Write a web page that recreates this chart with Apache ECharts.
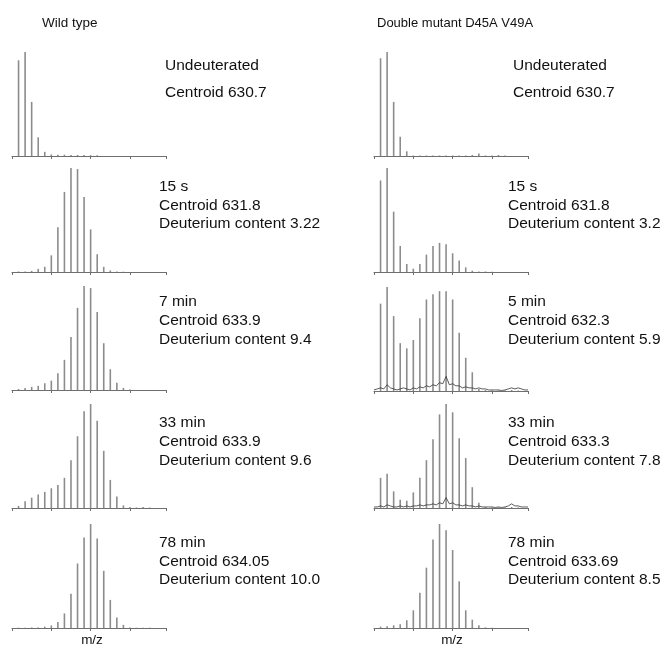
<!DOCTYPE html>
<html>
<head>
<meta charset="utf-8">
<script src="https://cdn.jsdelivr.net/npm/echarts@6/dist/echarts.min.js"></script>
<style>
html,body{margin:0;padding:0;background:#fff;}
#chart{width:665px;height:652px;}
</style>
</head>
<body>
<div id="chart"></div>
<script>
// ---- Data (relative intensity, % of base peak; index = isotope peak number) ----
const columnTitles = ['Wild type', 'Double mutant D45A V49A'];
const axisName = 'm/z';

const wtUndeut = [0, 92, 100, 52, 18, 4, 1.5, 1.2, 1.2, 1, 1, 1, 0.8, 0.8, 0, 0, 0, 0, 0, 0, 0, 0, 0, 0];
const wt15s    = [0, 0.5, 0.5, 1, 3, 5, 16, 43, 77, 100, 99, 72, 41, 17, 5, 1.5, 0.5, 0.3, 0, 0, 0, 0, 0, 0];
const wt7min   = [0, 1, 2, 3, 4, 6.5, 9, 16, 29, 51, 79, 100, 98, 75, 45, 20, 7, 2, 0.5, 0, 0, 0, 0, 0];
const wt33min  = [0, 2, 6.5, 10, 13, 15.5, 19, 22, 29, 46, 69, 93, 100, 84, 55, 27, 11, 2.5, 1, 0.5, 1, 0.5, 0, 0];
const wt78min  = [0, 0.3, 0.3, 0.5, 0.6, 1.3, 2.5, 5.7, 14, 33, 62, 87, 100, 86, 55, 27, 10, 3, 0.6, 0.3, 0.3, 0.3, 0, 0];

const dmUndeut = [0, 94, 100, 52, 18.5, 4.5, 0.5, 0.5, 0.5, 0.5, 0.5, 0.5, 0.5, 0.5, 0.5, 1, 2.5, 0.5, 0.5, 1, 0.5, 0, 0, 0];
const dm15s    = [0, 88, 100, 58, 25, 7.7, 3.2, 7.7, 16.7, 25, 28, 26.6, 18, 11, 4.5, 1.3, 0.6, 0.5, 0.3, 0, 0, 0, 0, 0];
const dm5min   = [0, 84, 100, 72, 46, 41, 49, 70, 88, 93, 96, 96, 88, 56, 32, 18, 2, 1, 0.5, 0.5, 0.5, 1, 0.5, 0];
const dm33min  = [0, 29, 33, 16, 8, 7, 15, 29, 46, 66, 90, 100, 92, 67, 48, 20, 5, 1, 0.5, 0.5, 0.5, 1, 0.5, 0];
const dm78min  = [0, 1.3, 1.6, 2.6, 3.6, 7.5, 17, 34, 58, 85, 100, 94, 75, 45, 17, 8, 2.6, 0.6, 0.3, 0, 0, 0, 0, 0];

// raw-trace noise under the 5 min and 33 min mutant spectra (positions in half-peak steps)
const noiseX    = [0,0.5,1,1.5,2,2.5,3,3.5,4,4.5,5,5.5,6,6.5,7,7.5,8,8.5,9,9.5,10,10.5,11,11.5,12,12.5,13,13.5,14,14.5,15,15.5,16,16.5,17,17.5,18,18.5,19,19.5,20,20.5,21,21.5,22,22.5,23,23.5];
const dm5Noise  = [1,2,3,2,6,3,2,1,2,3,2,1,3,2,4,3,5,4,6,5,8,7,14,6,7,5,5,3,4,3,3,2,3,2,2,1,1,1,1,0.5,1,2,3,2,3,2,1,1];
const dm33Noise = [1,1,2,1,3,2,1,1,2,1,2,1,2,2,3,2,3,3,4,3,5,4,10,4,5,3,3,2,3,2,2,1,2,1,1,1,1,0.5,1,0.5,1,2,4,2,2,1,1,1];

const wtLabels = [
  ['Undeuterated', 'Centroid 630.7'],
  ['15 s', 'Centroid 631.8', 'Deuterium content 3.22'],
  ['7 min', 'Centroid 633.9', 'Deuterium content 9.4'],
  ['33 min', 'Centroid 633.9', 'Deuterium content 9.6'],
  ['78 min', 'Centroid 634.05', 'Deuterium content 10.0']
];
const dmLabels = [
  ['Undeuterated', 'Centroid 630.7'],
  ['15 s', 'Centroid 631.8', 'Deuterium content 3.2'],
  ['5 min', 'Centroid 632.3', 'Deuterium content 5.9'],
  ['33 min', 'Centroid 633.3', 'Deuterium content 7.8'],
  ['78 min', 'Centroid 633.69', 'Deuterium content 8.5']
];

// ---- Layout ----
const columns = [
  { spectra: [wtUndeut, wt15s, wt7min, wt33min, wt78min], labels: wtLabels,
    noise: [null, null, null, null, null],
    left: 12, baselines: [156, 272, 390, 508, 628],
    textX: [165, 159, 159, 159, 159] },
  { spectra: [dmUndeut, dm15s, dm5min, dm33min, dm78min], labels: dmLabels,
    noise: [null, null, dm5Noise, dm33Noise, null],
    left: 374, baselines: [156, 272, 391, 508, 628],
    textX: [513, 508, 508, 508, 508] }
];
const textY = [[66, 93], [187, 205.5, 224], [302, 321, 340], [423, 442, 460.5], [543, 561.5, 580]];

const grid = [], xAxis = [], yAxis = [], series = [], graphic = [];
const PANEL_H = 104, PANEL_W = 154;
const font = '"Liberation Sans", Arial, sans-serif';

columns.forEach((col, c) => {
  col.spectra.forEach((vals, r) => {
    const gi = grid.length;
    grid.push({ left: col.left, top: col.baselines[r] - PANEL_H, width: PANEL_W, height: PANEL_H });
    xAxis.push({
      gridIndex: gi, type: 'value', min: 0, max: 23.5, interval: 6,
      axisLine: { show: true, lineStyle: { color: '#6e6e6e', width: 1 } },
      axisTick: { show: true, length: 3, lineStyle: { color: '#6e6e6e', width: 1 } },
      axisLabel: { show: false }, splitLine: { show: false }
    });
    yAxis.push({ gridIndex: gi, type: 'value', min: 0, max: 100, show: false, splitLine: { show: false } });
    series.push({
      type: 'bar', xAxisIndex: gi, yAxisIndex: gi, barWidth: 1.6,
      data: vals.map((v, i) => [i, v]),
      itemStyle: { color: '#8c8c8c' }, silent: true, animation: false, z: 2
    });
    if (col.noise[r]) {
      series.push({
        type: 'line', xAxisIndex: gi, yAxisIndex: gi, symbol: 'none',
        data: noiseX.map((x, i) => [x, col.noise[r][i]]),
        lineStyle: { color: '#333', width: 0.8 }, silent: true, animation: false, z: 3
      });
    }
    col.labels[r].forEach((t, k) => {
      graphic.push({ type: 'text', silent: true,
        style: { text: t, x: col.textX[r], y: textY[r][k], fill: '#111',
          font: '15.5px ' + font, textVerticalAlign: 'middle', verticalAlign: 'middle' } });
    });
  });
});

graphic.push({ type: 'text', silent: true, style: { text: columnTitles[0], x: 42, y: 23, fill: '#111',
  font: '13.5px ' + font, textVerticalAlign: 'middle', verticalAlign: 'middle' } });
graphic.push({ type: 'text', silent: true, style: { text: columnTitles[1], x: 377, y: 23, fill: '#111',
  font: '13px ' + font, textVerticalAlign: 'middle', verticalAlign: 'middle' } });
graphic.push({ type: 'text', silent: true, style: { text: axisName, x: 92, y: 640, fill: '#111',
  font: '13.5px ' + font, textAlign: 'center', align: 'center', textVerticalAlign: 'middle', verticalAlign: 'middle' } });
graphic.push({ type: 'text', silent: true, style: { text: axisName, x: 452, y: 640, fill: '#111',
  font: '13.5px ' + font, textAlign: 'center', align: 'center', textVerticalAlign: 'middle', verticalAlign: 'middle' } });

const chart = echarts.init(document.getElementById('chart'), null, { renderer: 'canvas' });
chart.setOption({ animation: false, backgroundColor: '#fff', grid, xAxis, yAxis, series, graphic });
</script>
</body>
</html>
